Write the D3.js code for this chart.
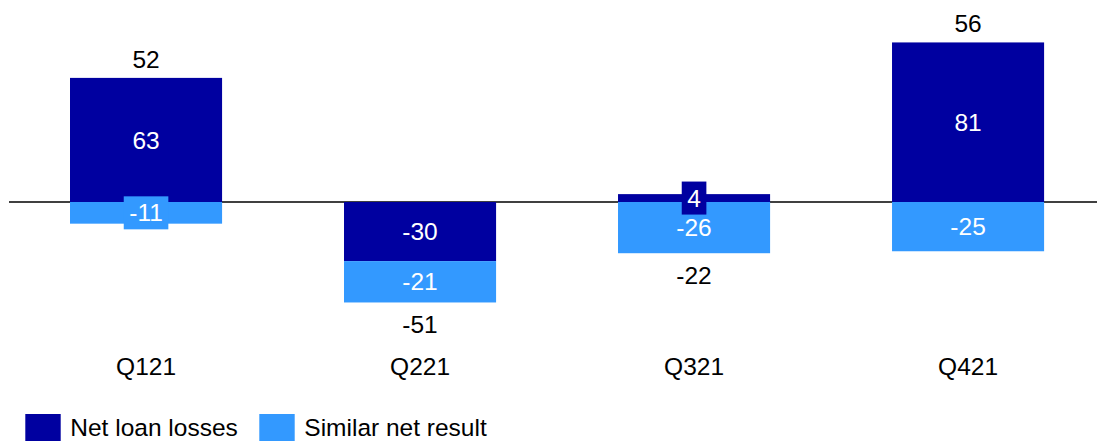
<!DOCTYPE html>
<html>
<head>
<meta charset="utf-8">
<script src="https://cdn.jsdelivr.net/npm/d3@7"></script>
<style>
  html, body { margin: 0; padding: 0; background: #fff; }
  svg { display: block; font-family: "Liberation Sans", Arial, sans-serif; }
</style>
</head>
<body>
<svg id="chart" width="1097" height="441"></svg>
<script>
const categories = ["Q121", "Q221", "Q321", "Q421"];
const netLoanLosses = [63, -30, 4, 81];
const similarNetResult = [-11, -21, -26, -25];
const totals = [52, -51, -22, 56];
const seriesNames = ["Net loan losses", "Similar net result"];
const colors = ["#0000a0", "#3399ff"];

const W = 1097, H = 441;
const svg = d3.select("#chart");
const fontSize = 24.5;

const x = d3.scaleBand()
  .domain(categories)
  .range([15.2, 1098.9])
  .paddingInner(0.445)
  .paddingOuter(0.2);

const y = d3.scaleLinear().domain([-100, 100]).range([399, 5]);

const seriesValues = [netLoanLosses, similarNetResult];
const rows = categories.map((c, i) => ({ cat: c, idx: i, a: netLoanLosses[i], b: similarNetResult[i] }));
const stack = d3.stack().keys(["a", "b"]).offset(d3.stackOffsetDiverging);
const stacked = stack(rows);

// zero line
svg.append("line")
  .attr("x1", 9).attr("x2", W)
  .attr("y1", y(0)).attr("y2", y(0))
  .attr("stroke", "#000").attr("stroke-width", 1.6);

// bars
stacked.forEach((layer, li) => {
  svg.append("g").selectAll("rect")
    .data(layer)
    .join("rect")
    .attr("x", d => x(d.data.cat))
    .attr("width", x.bandwidth())
    .attr("y", d => y(Math.max(d[0], d[1])))
    .attr("height", d => Math.abs(y(d[0]) - y(d[1])))
    .attr("fill", colors[li]);
});

// segment labels
const boxH = 33;
stacked.forEach((layer, li) => {
  layer.forEach(d => {
    const val = seriesValues[li][d.data.idx];
    const top = y(Math.max(d[0], d[1]));
    const bot = y(Math.min(d[0], d[1]));
    const cy = (top + bot) / 2;
    const cx = x(d.data.cat) + x.bandwidth() / 2;
    const g = svg.append("g");
    const rect = g.append("rect").attr("fill", colors[li]);
    const t = g.append("text")
      .attr("x", cx).attr("y", cy)
      .attr("dy", "0.35em")
      .attr("text-anchor", "middle")
      .attr("fill", "#fff")
      .attr("font-size", fontSize)
      .text(val);
    if (bot - top < boxH) {
      const w = t.node().getComputedTextLength() + 11;
      rect.attr("x", cx - w / 2).attr("width", w)
        .attr("y", cy - boxH / 2).attr("height", boxH);
    } else {
      rect.remove();
    }
  });
});

// totals
categories.forEach((c, i) => {
  const cx = x(c) + x.bandwidth() / 2;
  const hi = d3.max(stacked, l => Math.max(l[i][0], l[i][1]));
  const lo = d3.min(stacked, l => Math.min(l[i][0], l[i][1]));
  const yy = totals[i] >= 0 ? y(Math.max(hi, 0)) - 10 : y(Math.min(lo, 0)) + 31;
  svg.append("text")
    .attr("x", cx).attr("y", yy)
    .attr("text-anchor", "middle")
    .attr("fill", "#000")
    .attr("font-size", fontSize)
    .text(totals[i]);
});

// category labels
const xAxis = d3.axisBottom(x).tickSize(0).tickPadding(0);
const gx = svg.append("g").attr("transform", `translate(0,${375})`).call(xAxis);
gx.select(".domain").remove();
gx.selectAll("text")
  .attr("dy", 0).attr("y", 0)
  .attr("font-size", fontSize)
  .attr("font-family", "Liberation Sans, Arial, sans-serif")
  .attr("fill", "#000");

// legend
const legendX = [25.3, 259.3];
seriesNames.forEach((n, i) => {
  svg.append("rect")
    .attr("x", legendX[i]).attr("y", 414)
    .attr("width", 35.4).attr("height", 30)
    .attr("fill", colors[i]);
  svg.append("text")
    .attr("x", legendX[i] + 45).attr("y", 436)
    .attr("font-size", fontSize)
    .attr("fill", "#000")
    .text(n);
});
</script>
</body>
</html>
